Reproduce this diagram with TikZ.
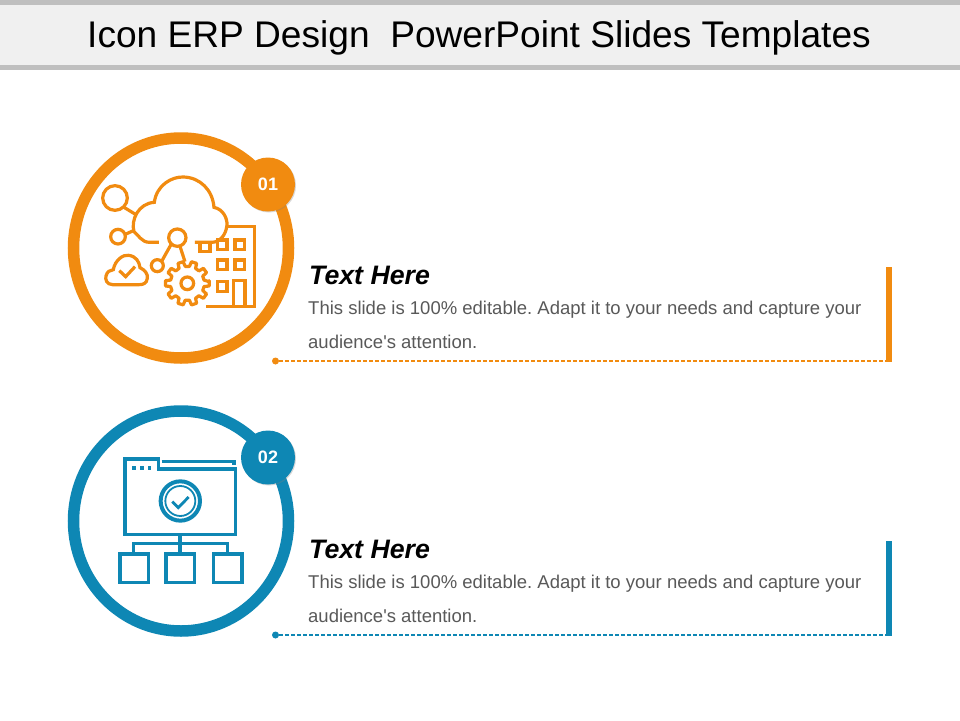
\documentclass[tikz,border=0pt]{standalone}
\usepackage{fontspec}
\setmainfont{Liberation Sans}
\usetikzlibrary{shadows}
\definecolor{org}{HTML}{F18B10}
\definecolor{blu}{HTML}{0E87B4}
\definecolor{hdr}{HTML}{F0F0F0}
\definecolor{hgr}{HTML}{BFBFBF}
\definecolor{bodyc}{HTML}{595959}
\tikzset{
 x=1pt,y=-1pt,
 ring/.style={line width=11.5pt},
 badge/.style={circle,minimum size=54pt,inner sep=0pt,text=white,font=\fontsize{18}{18}\selectfont\bfseries,drop shadow={shadow xshift=1pt,shadow yshift=-1pt,opacity=.3}},
 headtext/.style={anchor=base west,inner sep=0pt,font=\fontsize{26.7}{26.7}\selectfont\bfseries\itshape},
 bodytext/.style={anchor=base west,inner sep=0pt,text=bodyc,font=\fontsize{18.5}{18.5}\selectfont\frenchspacing},
 dotn/.style={circle,minimum size=7pt,inner sep=0pt},
 dashline/.style={line width=1.05pt,dash pattern=on 3.5pt off 2.5pt},
 ico/.style={line width=3.2pt,line join=miter},
}
\begin{document}
\begin{tikzpicture}
\useasboundingbox (0,0) rectangle (960,720);
\fill[white] (0,0) rectangle (960,720);
% header
\fill[hdr] (0,4) rectangle (960,66);
\fill[hgr] (0,0) rectangle (960,4.5);
\fill[hgr] (0,65) rectangle (960,70);
\node[anchor=base,inner sep=0pt,font=\fontsize{37.1}{37.1}\selectfont] (title) at (479,47) {Icon ERP Design\ \ PowerPoint Slides Templates};

% connectors
\node[dotn,fill=org] (d1) at (275.5,361) {};
\coordinate (e1) at (886,361);
\draw[org,dashline] (d1) -- (e1);
\node[dotn,fill=blu] (d2) at (275.5,635) {};
\coordinate (e2) at (886,635);
\draw[blu,dashline] (d2) -- (e2);

% rings
\draw[org,ring] (181,248) ellipse [x radius=107.5,y radius=110];
\draw[blu,ring] (181,521) ellipse [x radius=107.5,y radius=110];
\node[badge,fill=org] (b1) at (268,184.5) {01};
\node[badge,fill=blu] (b2) at (268,457.5) {02};

% text 1
\node[headtext] (h1) at (309,284.5) {Text Here};
\node[bodytext] (t1a) at (308,314) {This slide is 100\% editable. Adapt it to your needs and capture your};
\node[bodytext] (t1b) at (308,348) {audience\textquotesingle s attention.};
\fill[org] (886,267) rectangle (892,361.5);
% text 2
\node[headtext] (h2) at (309,558.5) {Text Here};
\node[bodytext] (t2a) at (308,588) {This slide is 100\% editable. Adapt it to your needs and capture your};
\node[bodytext] (t2b) at (308,622) {audience\textquotesingle s attention.};
\fill[blu] (886,541) rectangle (892,636);

% icon 1
\begin{scope}[shift={(60,120)},x=.3333pt,y=-.3333pt,org,ico]
 % cloud
 \draw (297,367) -- (268,367) .. controls (245,367) and (235,345) .. (222,335)
   .. controls (212,300) and (235,250) .. (283,247)
   .. controls (290,195) and (335,170) .. (370,171)
   .. controls (420,172) and (458,210) .. (462,262)
   .. controls (490,268) and (502,295) .. (501,315)
   .. controls (498,345) and (480,367) .. (455,367) -- (405,367);
 % nodes
 \draw (165,234) circle [radius=37];
 \draw (174,350) circle [radius=22];
 \draw (192,262) -- (228,284);
 \draw (196,343) -- (220,332);
 \draw (352,353) circle [radius=26];
 \draw (292,437) circle [radius=18];
 \draw (334,372) -- (305,424);
 \draw (360,379) -- (375,425);
 % gear
 \draw (382,490) circle [radius=19];
 \draw[line join=round] ({382+66*cos(-4)},{490+66*sin(-4)})
   foreach \a in {0,36,...,324} {
     -- ({382+66*cos(\a-7)},{490+66*sin(\a-7)})
     -- ({382+66*cos(\a+7)},{490+66*sin(\a+7)})
     -- ({382+51*cos(\a+11)},{490+51*sin(\a+11)})
     -- ({382+51*cos(\a+25)},{490+51*sin(\a+25)})
   } -- cycle;
 % small cloud and check
 \draw (175,494) -- (158,494) .. controls (140,494) and (135,478) .. (138,468)
   .. controls (141,455) and (150,450) .. (160,449)
   .. controls (165,420) and (190,403) .. (205,406)
   .. controls (228,408) and (238,425) .. (240,443)
   .. controls (255,450) and (264,462) .. (262,475)
   .. controls (260,490) and (250,494) .. (238,494) -- cycle;
 \draw (178,452) -- (197,470) -- (225,440);
 % building
 \draw (505,320) -- (584,320) -- (584,560) -- (438,560);
 \draw (420,372) -- (420,395) -- (450,395) -- (450,372);
 \draw (473,360) rectangle (501,388);
 \draw (525,360) rectangle (553,388);
 \draw (473,420) rectangle (501,449);
 \draw (525,420) rectangle (553,449);
 \draw (473,484) rectangle (501,515);
 \draw (521,558) -- (521,482) -- (555,482) -- (555,558);
\end{scope}

% icon 2
\begin{scope}[shift={(60,395)},x=.3333pt,y=-.3333pt,blu,ico]
 \draw (195,192) -- (296,192) -- (296,222) -- (527,222) -- (527,419) -- (195,419) -- cycle;
 \draw (305,199) -- (522,199) -- (522,209);
 \fill (216,213) rectangle (228,224);
 \fill (240,213) rectangle (252,224);
 \fill (263,213) rectangle (274,224);
 \draw[line width=4pt] (361,318) circle [radius=59];
 \draw[line width=1.8pt] (361,318) circle [radius=45];
 \draw[line width=2.8pt] (337,320) -- (355,338) -- (386,306);
 \draw (360,419) -- (360,476);
 \draw (221,476) -- (221,445) -- (503,445) -- (503,476);
 \draw (180,477) rectangle (265,563);
 \draw (318,477) rectangle (403,563);
 \draw (460,477) rectangle (546,563);
\end{scope}
\end{tikzpicture}
\end{document}
